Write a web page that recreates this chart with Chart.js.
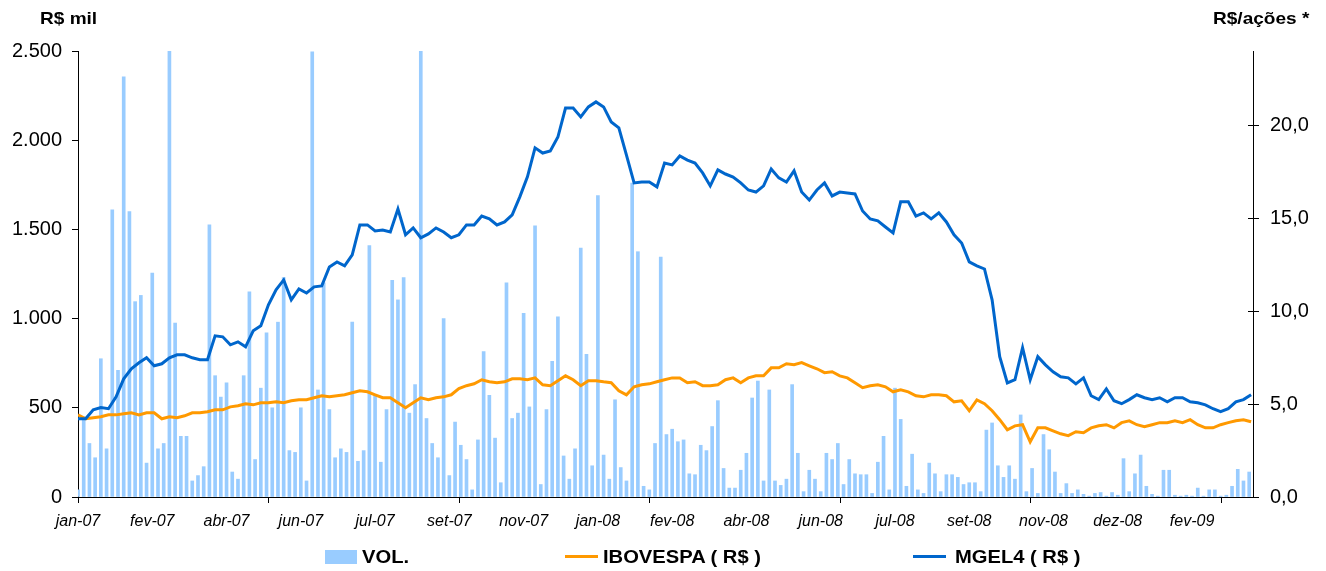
<!DOCTYPE html>
<html>
<head>
<meta charset="utf-8">
<script src="https://cdn.jsdelivr.net/npm/chart.js@4.4.0/dist/chart.umd.min.js"></script>
<style>
  html, body { margin: 0; padding: 0; background: #fff; }
  #wrap { position: relative; width: 1326px; height: 571px; font-family: "Liberation Sans", Arial, sans-serif; }
  #chart { position: absolute; left: 0; top: 0; }
  .t { position: absolute; font-weight: bold; color: #000; white-space: nowrap; line-height: 1; transform-origin: left center; transform: scaleX(1.12); }
  .sw { position: absolute; }
</style>
</head>
<body>
<div id="wrap">
  <canvas id="chart" width="1326" height="571"></canvas>
  <div class="t" style="left:40px; top:10px; font-size:17px;">R$ mil</div>
  <div class="t" style="left:1213px; top:10px; font-size:17px;">R$/ações *</div>

  <div class="sw" style="left:325px; top:550px; width:32px; height:14px; background:#99CCFF;"></div>
  <div class="t" style="left:362px; top:548px; font-size:18px;">VOL.</div>
  <div class="sw" style="left:565px; top:555px; width:33px; height:3px; background:#FF9900;"></div>
  <div class="t" style="left:603px; top:548px; font-size:18px;">IBOVESPA ( R$ )</div>
  <div class="sw" style="left:913px; top:555px; width:33px; height:3px; background:#0066CC;"></div>
  <div class="t" style="left:955px; top:548px; font-size:18px;">MGEL4 ( R$ )</div>
</div>
<script>
// eixo x: pregões (dias) desde jan-07
const xLabels = ['jan-07', 'fev-07', 'abr-07', 'jun-07', 'jul-07', 'set-07', 'nov-07', 'jan-08',
  'fev-08', 'abr-08', 'jun-08', 'jul-08', 'set-08', 'nov-08', 'dez-08', 'fev-09'];
const labelStep = 39;   // um rótulo a cada 39 pregões
const markStep = 100;   // marca do eixo a cada 100 pregões
const lastDay = 617;

// cotações (R$) a cada 4 pregões
const lineStep = 4;
const mgel4 = [
  4.21, 4.21, 4.69, 4.81, 4.75, 5.39, 6.36, 6.90, 7.22, 7.49,
  7.06, 7.17, 7.49, 7.65, 7.65, 7.49, 7.39, 7.39, 8.67, 8.62,
  8.19, 8.35, 8.08, 8.94, 9.21, 10.34, 11.15, 11.68, 10.61, 11.20,
  10.98, 11.31, 11.36, 12.38, 12.65, 12.44, 13.03, 14.64, 14.64, 14.32,
  14.37, 14.26, 15.50, 14.11, 14.48, 13.95, 14.16, 14.48, 14.26, 13.95,
  14.11, 14.64, 14.64, 15.12, 14.97, 14.64, 14.80, 15.18, 16.15, 17.23,
  18.79, 18.51, 18.62, 19.37, 20.93, 20.93, 20.45, 20.99, 21.26, 20.99,
  20.18, 19.86, 18.40, 16.90, 16.95, 16.95, 16.69, 17.97, 17.87, 18.35,
  18.13, 17.97, 17.44, 16.74, 17.60, 17.38, 17.22, 16.90, 16.52, 16.41,
  16.74, 17.65, 17.17, 16.95, 17.55, 16.41, 15.98, 16.52, 16.90, 16.20,
  16.41, 16.36, 16.31, 15.39, 14.96, 14.86, 14.53, 14.21, 15.89, 15.89,
  15.12, 15.29, 14.97, 15.29, 14.80, 14.11, 13.67, 12.65, 12.44, 12.27,
  10.61, 7.55, 6.14, 6.31, 8.03, 6.31, 7.55, 7.11, 6.74, 6.47,
  6.41, 6.09, 6.41, 5.45, 5.24, 5.82, 5.18, 5.02, 5.24, 5.50,
  5.34, 5.24, 5.34, 5.12, 5.34, 5.34, 5.12, 5.07, 4.96, 4.75,
  4.59, 4.75, 5.12, 5.24, 5.50
];
const ibovespa = [
  4.42, 4.21, 4.27, 4.32, 4.42, 4.42, 4.48, 4.53, 4.42, 4.53,
  4.53, 4.21, 4.32, 4.27, 4.37, 4.53, 4.53, 4.59, 4.69, 4.69,
  4.85, 4.91, 5.02, 4.96, 5.07, 5.07, 5.12, 5.07, 5.18, 5.23,
  5.23, 5.34, 5.45, 5.39, 5.45, 5.50, 5.61, 5.72, 5.66, 5.50,
  5.34, 5.34, 5.07, 4.80, 5.07, 5.34, 5.23, 5.34, 5.39, 5.50,
  5.83, 5.99, 6.09, 6.31, 6.20, 6.15, 6.20, 6.36, 6.36, 6.31,
  6.41, 6.04, 5.99, 6.26, 6.52, 6.31, 5.99, 6.26, 6.26, 6.20,
  6.15, 5.72, 5.50, 5.93, 6.04, 6.09, 6.20, 6.31, 6.41, 6.41,
  6.15, 6.20, 5.99, 5.99, 6.04, 6.31, 6.41, 6.15, 6.41, 6.52,
  6.52, 6.95, 6.95, 7.17, 7.12, 7.23, 7.06, 6.90, 6.69, 6.74,
  6.52, 6.41, 6.15, 5.88, 5.99, 6.04, 5.93, 5.66, 5.77, 5.66,
  5.45, 5.39, 5.50, 5.50, 5.45, 5.12, 5.18, 4.64, 5.23, 5.02,
  4.64, 4.16, 3.62, 3.83, 3.89, 2.97, 3.72, 3.72, 3.56, 3.40,
  3.30, 3.51, 3.46, 3.72, 3.83, 3.89, 3.72, 4.00, 4.10, 3.89,
  3.78, 3.89, 4.00, 4.00, 4.10, 4.00, 4.16, 3.89, 3.72, 3.72,
  3.89, 4.00, 4.10, 4.16, 4.05
];

// volume (R$ mil) a cada 3 pregões
const volStep = 3;
const volume = [
  40, 450, 300, 220, 775, 270, 1610, 710, 2355, 1600,
  1095, 1130, 190, 1255, 270, 300, 2520, 975, 340, 340,
  90, 120, 170, 1525, 680, 560, 640, 140, 100, 680,
  1150, 210, 610, 920, 500, 980, 1230, 260, 250, 500,
  90, 2495, 600, 1200, 490, 220, 270, 250, 980, 200,
  260, 1410, 570, 195, 490, 1215, 1105, 1230, 470, 630,
  2520, 440, 300, 220, 1000, 120, 420, 290, 210, 40,
  320, 815, 570, 330, 80, 1200, 440, 470, 1030, 505,
  1520, 70, 490, 760, 1010, 230, 100, 270, 1395, 800,
  175, 1690, 235, 100, 545, 165, 90, 1760, 1375, 60,
  40, 300, 1345, 350, 380, 310, 320, 130, 125, 290,
  260, 395, 540, 160, 50, 50, 150, 245, 555, 650,
  90, 600, 90, 65, 100, 630, 245, 30, 150, 100,
  30, 245, 210, 300, 70, 210, 130, 125, 125, 20,
  195, 340, 40, 610, 435, 60, 240, 40, 20, 190,
  130, 30, 125, 125, 110, 70, 80, 80, 30, 375,
  415, 175, 110, 175, 100, 460, 30, 160, 20, 350,
  265, 140, 20, 75, 20, 40, 15, 5, 20, 25,
  5, 25, 10, 215, 30, 130, 235, 60, 15, 5,
  150, 150, 10, 5, 10, 5, 50, 5, 40, 40,
  5, 10, 60, 155, 90, 140
];

const FONT = '"Liberation Sans", Arial, sans-serif';

function milhar(v) {
  return String(v).replace(/\B(?=(\d{3})+(?!\d))/g, '.');
}

// marcas do eixo x (a cada 100 pregões) e marcas cruzadas do eixo direito
const tickMarks = {
  id: 'tickMarks',
  afterDraw(chart) {
    const { ctx, chartArea, scales } = chart;
    ctx.save();
    ctx.strokeStyle = '#000';
    ctx.lineWidth = 1;
    ctx.beginPath();
    for (let d = 0; d <= lastDay; d += markStep) {
      const px = Math.round(scales.x.getPixelForValue(d)) + 0.5;
      ctx.moveTo(px, chartArea.bottom);
      ctx.lineTo(px, chartArea.bottom + 6);
    }
    scales.y2.ticks.forEach(t => {
      const py = Math.round(scales.y2.getPixelForValue(t.value)) + 0.5;
      ctx.moveTo(chartArea.right - 5, py);
      ctx.lineTo(chartArea.right + 6, py);
    });
    ctx.stroke();
    ctx.restore();
  }
};

new Chart(document.getElementById('chart'), {
  data: {
    datasets: [
      {
        type: 'line',
        label: 'MGEL4 ( R$ )',
        data: mgel4.map((v, i) => ({ x: i * lineStep, y: v })),
        yAxisID: 'y2',
        borderColor: '#0066CC',
        borderWidth: 3,
        pointRadius: 0,
        tension: 0,
        order: 0
      },
      {
        type: 'line',
        label: 'IBOVESPA ( R$ )',
        data: ibovespa.map((v, i) => ({ x: i * lineStep, y: v })),
        yAxisID: 'y2',
        borderColor: '#FF9900',
        borderWidth: 3,
        pointRadius: 0,
        tension: 0,
        order: 1
      },
      {
        type: 'bar',
        label: 'VOL.',
        data: volume.map((v, i) => ({ x: i * volStep, y: v })),
        yAxisID: 'y',
        backgroundColor: '#99CCFF',
        barThickness: 3,
        order: 2
      }
    ]
  },
  options: {
    responsive: false,
    animation: false,
    layout: { padding: { top: 51, left: 0, right: 0, bottom: 0 } },
    plugins: { legend: { display: false }, tooltip: { enabled: false } },
    scales: {
      x: {
        type: 'linear',
        offset: false,
        min: 0,
        max: lastDay,
        grid: { offset: false, drawOnChartArea: false, drawTicks: false },
        border: { color: '#000', width: 1 },
        ticks: {
          autoSkip: false,
          maxRotation: 0,
          padding: 15,
          color: '#000',
          font: { family: FONT, size: 16, style: 'italic' },
          callback: (v, i) => xLabels[i]
        },
        afterBuildTicks: s => { s.ticks = xLabels.map((_, i) => ({ value: i * labelStep })); },
        afterFit: s => { s.height = 74; }
      },
      y: {
        position: 'left',
        min: 0,
        max: 2500,
        grid: { drawOnChartArea: false, tickLength: 6, color: '#000' },
        border: { color: '#000', width: 1 },
        ticks: {
          stepSize: 500,
          padding: 10,
          color: '#000',
          font: { family: FONT, size: 20 },
          callback: v => milhar(v)
        },
        afterFit: s => { s.width = 78; }
      },
      y2: {
        position: 'right',
        min: 0,
        max: 24,
        grid: { drawOnChartArea: false, drawTicks: false },
        border: { color: '#000', width: 1 },
        ticks: {
          stepSize: 5,
          includeBounds: false,
          padding: 17,
          color: '#000',
          font: { family: FONT, size: 20 },
          callback: v => v.toFixed(1).replace('.', ',')
        },
        afterFit: s => { s.width = 73; }
      }
    }
  },
  plugins: [tickMarks]
});
</script>
</body>
</html>
